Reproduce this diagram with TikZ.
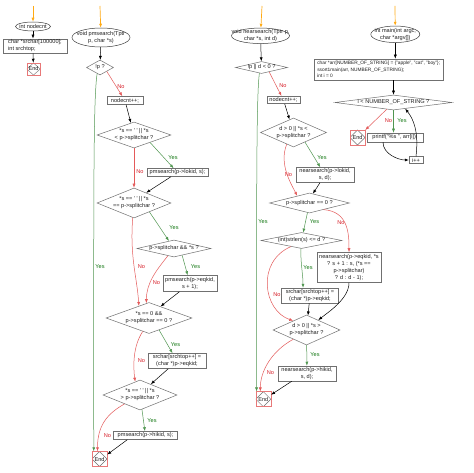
\documentclass[tikz,border=0pt]{standalone}
\usepackage{fontspec}
\setmainfont{Liberation Sans}
\usetikzlibrary{arrows.meta,shapes.geometric}
\definecolor{LineGray}{RGB}{112,112,112}
\definecolor{EllGray}{RGB}{60,60,60}
\definecolor{TextDark}{RGB}{30,30,30}
\definecolor{YesGreen}{RGB}{20,120,20}
\definecolor{YesLine}{RGB}{80,150,80}
\definecolor{NoRed}{RGB}{215,30,40}
\definecolor{NoLine}{RGB}{228,90,90}
\definecolor{EndRed}{RGB}{232,120,120}
\definecolor{StartOrange}{RGB}{255,170,20}
\newcommand\chartfont{\fontsize{5.6}{7}\selectfont}
\newcommand\smallchart{\fontsize{4.8}{6.5}\selectfont}
\tikzset{
  >={Latex[length=4pt,width=3pt]},
  box/.style={draw=LineGray,line width=.5pt,fill=white,align=center,text=TextDark,font=\chartfont,inner xsep=2pt,inner ysep=1pt,minimum height=8pt},
  boxLeft/.style={box,align=left},
  startEll/.style={ellipse,draw=EllGray,line width=.5pt,fill=white,inner sep=0pt},
  decision/.style={diamond,draw=LineGray,line width=.5pt,fill=white,inner sep=0pt},
  shapeText/.style={font=\chartfont,text=TextDark,align=center,inner sep=0pt},
  endNode/.style={rectangle,draw=EndRed,line width=.5pt,fill=white,minimum width=15pt,minimum height=15pt,inner sep=0pt,font=\chartfont,text=TextDark,
    path picture={\draw[LineGray,line width=.4pt] (path picture bounding box.north) -- (path picture bounding box.east) -- (path picture bounding box.south) -- (path picture bounding box.west) -- cycle;}},
  flow/.style={->,line width=.5pt,draw=black},
  yesFlow/.style={->,line width=.5pt,draw=YesLine},
  noFlow/.style={->,line width=.5pt,draw=NoLine},
  startFlow/.style={->,line width=.7pt,draw=StartOrange},
  yesLabel/.style={font=\chartfont,text=YesGreen,inner sep=0pt},
  noLabel/.style={font=\chartfont,text=NoRed,inner sep=0pt}
}
\begin{document}
\begin{tikzpicture}[x=1pt,y=-1pt]
  \fill[white] (0,0) rectangle (474,473);
  \coordinate (s1) at (33,6);
  \node[startEll,minimum width=35pt,minimum height=9pt,label={[shapeText]center:int nodecnt}] (v1) at (33,26.5) {};
  \node[boxLeft,minimum width=64pt,minimum height=14pt] (b1) at (35,46) {char *srchar[100000];\\int srchtop;};
  \node[endNode,minimum width=13.5pt,minimum height=12pt] (e1) at (33.5,69) {End};
  \draw[startFlow] (s1) -- (v1);
  \draw[flow] (v1) -- (v1.south |- b1.north);
  \draw[flow] (v1.south |- b1.south) -- (e1);

  \coordinate (s2) at (100,6);
  \node[startEll,minimum width=58pt,minimum height=19pt,label={[shapeText]center:{void pmsearch(Tptr\\p, char *s)}}] (v2) at (101,37.5) {};
  \node[decision,minimum width=27pt,minimum height=15pt,label={[shapeText]center:{!p ?}}] (d2a) at (100,67.5) {};
  \node[box,minimum width=36pt] (b2a) at (125,100.5) {nodecnt++;};
  \node[decision,minimum width=74pt,minimum height=26pt,label={[shapeText]center:{*s == \textquotesingle{} \textquotesingle{} || *s\\< p->splitchar ?}}] (d2b) at (134,135) {};
  \node[box,minimum width=61pt] (b2b) at (177.5,172.5) {pmsearch(p->lokid, s);};
  \node[decision,minimum width=74pt,minimum height=30pt,label={[shapeText]center:{*s == \textquotesingle{} \textquotesingle{} || *s\\== p->splitchar ?}}] (d2c) at (134,203) {};
  \node[decision,minimum width=74pt,minimum height=17pt,label={[shapeText]center:{p->splitchar \&\& *s ?}}] (d2d) at (174,248.5) {};
  \node[box,minimum width=54pt,minimum height=16pt] (b2c) at (190,283.5) {pmsearch(p->eqkid,\\s + 1);};
  \node[decision,minimum width=86pt,minimum height=31pt,label={[shapeText]center:{*s == 0 \&\&\\p->splitchar == 0 ?}}] (d2e) at (149,318) {};
  \node[box,minimum width=58pt,minimum height=15pt] (b2d) at (177,361) {srchar[srchtop++] =\\(char *)p->eqkid;};
  \node[decision,minimum width=74pt,minimum height=30pt,label={[shapeText]center:{*s == \textquotesingle{} \textquotesingle{} || *s\\> p->splitchar ?}}] (d2f) at (140,395) {};
  \node[box,minimum width=64pt] (b2e) at (145.5,435.5) {pmsearch(p->hikid, s);};
  \node[endNode] (e2) at (99.5,459) {End};
  \node[noLabel] (n2a) at (121,87) {No};
  \node[yesLabel] (y2a) at (100,267) {Yes};
  \node[yesLabel] (y2b) at (173,158) {Yes};
  \node[noLabel] (n2b) at (140,172) {No};
  \node[yesLabel] (y2c) at (174,228) {Yes};
  \node[noLabel] (n2c) at (141.5,267) {No};
  \node[yesLabel] (y2d) at (195.5,267) {Yes};
  \node[noLabel] (n2d) at (156.5,283) {No};
  \node[yesLabel] (y2e) at (175.5,345) {Yes};
  \node[noLabel] (n2e) at (141.5,361) {No};
  \node[yesLabel] (y2f) at (152,421) {Yes};
  \node[noLabel] (n2f) at (107.5,436) {No};
  \draw[startFlow] (s2) -- (v2);
  \draw[flow] (v2) -- (d2a);
  \draw[noFlow] (d2a.-30) -- (b2a);
  \draw[flow] (b2a) -- (d2b);
  \draw[yesFlow] (d2b.-25) -- (b2b);
  \draw[noFlow] (d2b) -- (d2c);
  \draw[flow] (b2b) -- (d2c.40);
  \draw[yesFlow] (d2c.-30) -- (d2d);
  \draw[noFlow] (d2c.-95) .. controls +(-3,40) and +(-2,-30) .. (d2e.130);
  \draw[yesFlow] (d2d.-40) -- (b2c);
  \draw[noFlow] (d2d.-130) .. controls +(-12,15) and +(0,-20) .. (d2e.100);
  \draw[flow] (b2c) -- (d2e.45);
  \draw[yesFlow] (d2e.-50) -- (b2d);
  \draw[noFlow] (d2e.-115) .. controls +(-10,15) and +(-2,-15) .. (d2f.110);
  \draw[flow] (b2d) -- (d2f.45);
  \draw[yesFlow] (d2f) -- (b2e);
  \draw[noFlow] (d2f.-150) .. controls +(-18,10) and +(0,-25) .. ([xshift=-2pt]e2.north);
  \draw[flow] ([xshift=14pt]b2e.south west) -- (e2.30);
  \draw[yesFlow] (d2a.-115) .. controls +(-4,25) and +(0,-250) .. ([xshift=2pt]e2.north west);

  \coordinate (s3) at (262,6);
  \node[startEll,minimum width=58pt,minimum height=15.5pt,label={[shapeText]center:{void nearsearch(Tptr p,\\char *s, int d)}}] (v3) at (260.5,35.8) {};
  \node[decision,minimum width=52pt,minimum height=12pt,label={[shapeText]center:{!p || d < 0 ?}}] (d3a) at (261.5,67.5) {};
  \node[box,minimum width=33pt,minimum height=7.5pt] (b3a) at (283.5,100) {nodecnt++;};
  \node[decision,minimum width=66pt,minimum height=29pt,label={[shapeText]center:{d > 0 || *s <\\p->splitchar ?}}] (d3b) at (293.5,132.5) {};
  \node[box,minimum width=58pt,minimum height=15pt] (b3c) at (325,175) {nearsearch(p->lokid,\\s, d);};
  \node[decision,minimum width=80pt,minimum height=20pt,label={[shapeText]center:{p->splitchar == 0 ?}}] (d3c) at (309.5,203) {};
  \node[decision,minimum width=81pt,minimum height=16pt,label={[shapeText]center:{(int)strlen(s) <= d ?}}] (d3d) at (301.5,240.5) {};
  \node[box,minimum width=64pt,minimum height=30pt] (b3d) at (349,267.5) {nearsearch(p->eqkid, *s\\? s + 1 : s, (*s ==\\p->splitchar)\\? d : d - 1);};
  \node[box,minimum width=57pt,minimum height=15pt] (b3e) at (310,295.5) {srchar[srchtop++] =\\(char *)p->eqkid;};
  \node[decision,minimum width=67pt,minimum height=30pt,label={[shapeText]center:{d > 0 || *s >\\p->splitchar ?}}] (d3e) at (306.5,330) {};
  \node[box,minimum width=58pt,minimum height=15pt] (b3f) at (307,373.5) {nearsearch(p->hikid,\\s, d);};
  \node[endNode] (e3) at (263.3,399.2) {End};
  \node[noLabel] (n3a) at (283,86) {No};
  \node[yesLabel] (y3a) at (263,222) {Yes};
  \node[yesLabel] (y3b) at (322,158) {Yes};
  \node[noLabel] (n3b) at (288.5,175) {No};
  \node[yesLabel] (y3c) at (314.5,222) {Yes};
  \node[noLabel] (n3c) at (341,223) {No};
  \node[yesLabel] (y3d) at (308,268) {Yes};
  \node[noLabel] (n3d) at (277,295) {No};
  \node[yesLabel] (y3e) at (315,355) {Yes};
  \node[noLabel] (n3e) at (270.5,373) {No};
  \draw[startFlow] (s3) -- (v3);
  \draw[flow] (v3) -- (d3a);
  \draw[noFlow] (d3a.-30) -- (b3a);
  \draw[flow] (b3a) -- (d3b);
  \draw[yesFlow] (d3b.-40) -- (b3c);
  \draw[noFlow] (d3b.-120) .. controls +(-8,20) and +(-6,-12) .. (d3c.150);
  \draw[flow] (b3c) -- (d3c.70);
  \draw[yesFlow] (d3c) -- (d3d);
  \draw[noFlow] (d3c.-25) .. controls +(24,2) and +(0,-20) .. (b3d.north);
  \draw[yesFlow] (d3d.-95) .. controls +(0,18) and +(0,-14) .. ([xshift=-7pt]b3e.north);
  \draw[noFlow] (d3d.-150) .. controls +(-35,15) and +(-30,-10) .. (d3e.145);
  \draw[flow] (b3e) -- (d3e);
  \draw[flow] (b3d.south) .. controls +(0,16) and +(10,-8) .. (d3e.40);
  \draw[yesFlow] (d3e) -- (b3f);
  \draw[noFlow] (d3e.-145) .. controls +(-22,12) and +(0,-20) .. ([xshift=-3pt]e3.north);
  \draw[flow] ([xshift=14pt]b3f.south west) -- (e3.30);
  \draw[yesFlow] (d3a.-110) .. controls +(-3,20) and +(0,-200) .. ([xshift=1pt]e3.north west);

  \coordinate (s4) at (395,6);
  \node[startEll,minimum width=49pt,minimum height=16.5pt,label={[shapeText]center:{int main(int argc,\\char *argv[])}}] (v4) at (395.3,34.3) {};
  \node[boxLeft,minimum width=129pt,minimum height=21pt,font=\smallchart] (b4a) at (378.7,69.5) {char *arr[NUMBER\_OF\_STRING] = \{"apple", "cat", "boy"\};\\ssort1main(arr, NUMBER\_OF\_STRING);\\int i = 0};
  \node[decision,minimum width=117pt,minimum height=15pt,label={[shapeText]center:{i < NUMBER\_OF\_STRING ?}}] (d4a) at (393.5,102.5) {};
  \node[endNode] (e4) at (357.5,137.5) {End};
  \node[box,minimum width=56pt,minimum height=9pt] (b4b) at (395,137.5) {printf("\%s ", arr[i]);};
  \node[box,minimum width=14pt,minimum height=7pt] (b4c) at (416,160) {i++};
  \node[noLabel] (n4a) at (388.5,121) {No};
  \node[yesLabel] (y4a) at (402,121) {Yes};
  \draw[startFlow] (s4) -- (v4);
  \draw[flow] (v4) -- (v4.south |- b4a.north);
  \draw[flow] (d4a.north |- b4a.south) -- (d4a);
  \draw[noFlow] (d4a.-135) -- (e4);
  \draw[yesFlow] (d4a) -- (d4a.south |- b4b.north);
  \draw[flow] ([xshift=-12pt]b4b.south) .. controls +(0,12) and +(-10,0) .. (b4c.west);
  \draw[flow] (b4c.north) .. controls +(3,-25) and +(8,10) .. (d4a.-28);
\end{tikzpicture}
\end{document}
